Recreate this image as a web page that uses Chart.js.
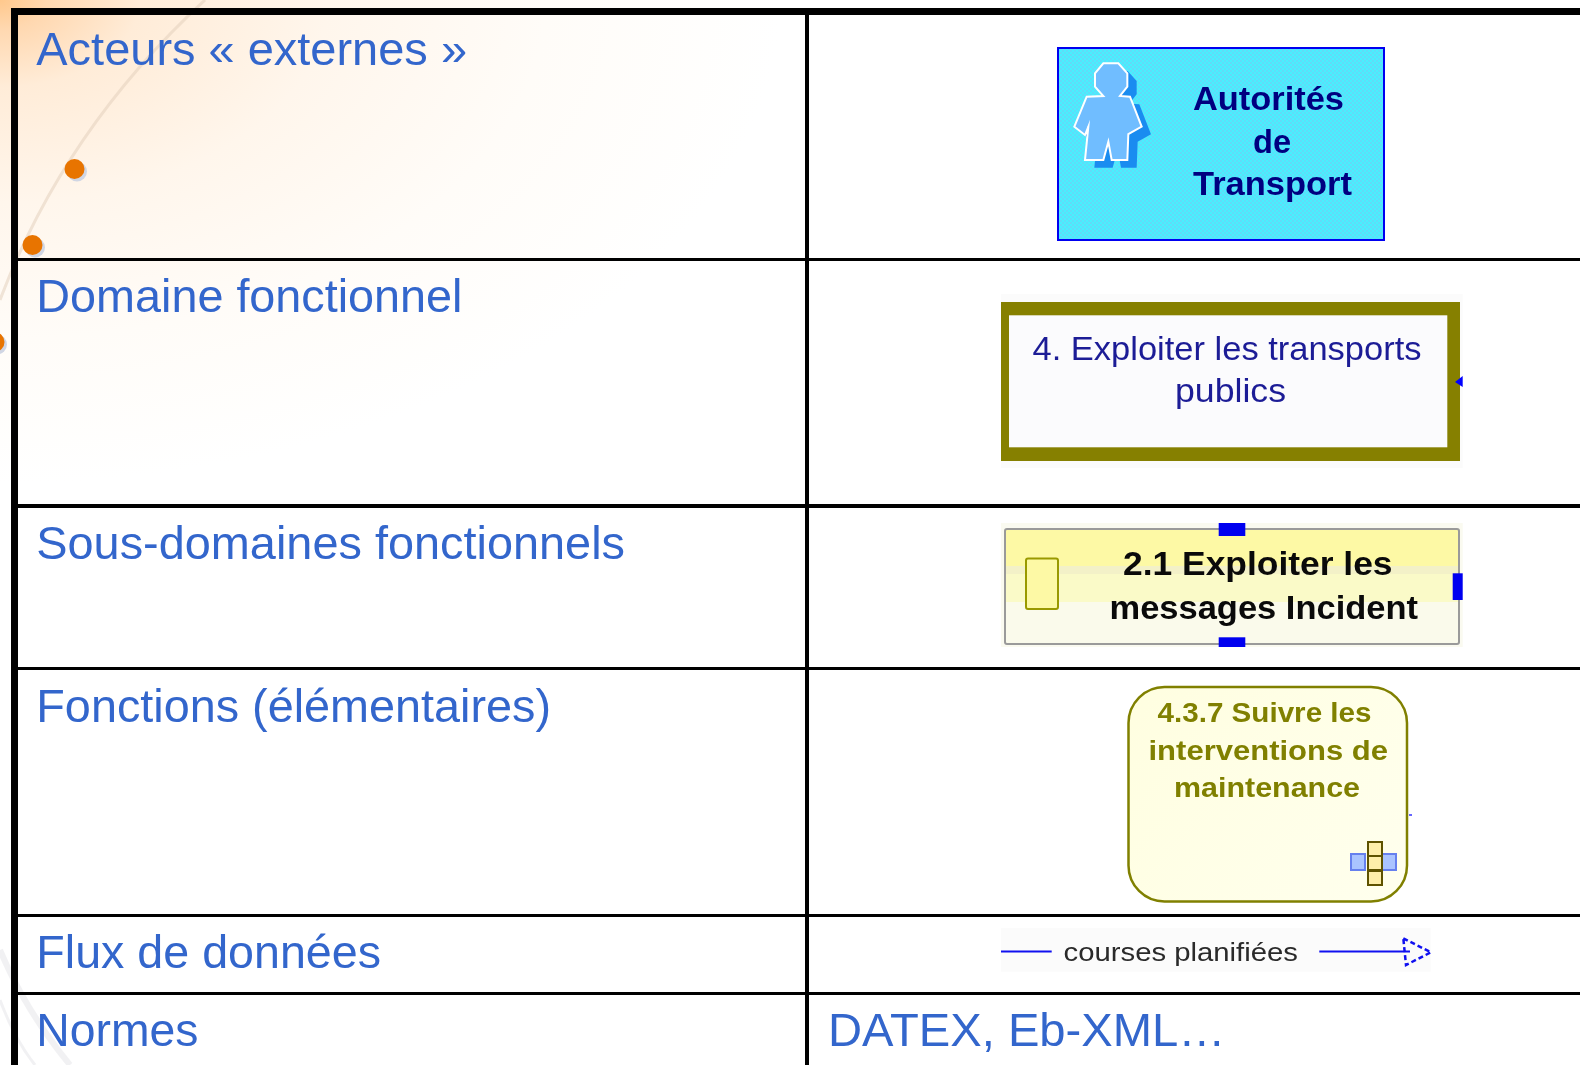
<!DOCTYPE html>
<html lang="fr"><head><meta charset="utf-8">
<style>html,body{margin:0;padding:0;background:#fff;overflow:hidden}#w{width:1580px;height:1065px;position:relative}canvas{display:block}</style>
<script src="https://cdn.jsdelivr.net/npm/chart.js@4"></script>
</head><body><div id="w"><canvas id="c" width="1580" height="1065"></canvas></div>
<script>
// Table content
const rowLabels = ["Acteurs « externes »","Domaine fonctionnel","Sous-domaines fonctionnels","Fonctions (élémentaires)","Flux de données","Normes"];
const normsValue = "DATEX, Eb-XML…";
const actorLines = ["Autorités","de","Transport"];
const domainLines = ["4. Exploiter les transports","publics"];
const subdomainLines = ["2.1 Exploiter les","messages Incident"];
const functionLines = ["4.3.7 Suivre les","interventions de","maintenance"];
const flowLabel = "courses planifiées";
// Table frame, on the axes (1 unit = 1 px)
const rowEdges = [11.5,259.5,506,668.5,915.5,993.5];
const rowEdgeWidths = [7,3,4,3,3,3];
const colEdges = [14.5,807];
const colEdgeWidths = [7,4];
const labelBaselines = [65,312,559,722,968,1046];
const labelEnds = [467,462.5,625,551,381,198.5];
// Decorative bullets of the slide
const bulletX = [74.5,32.5,-5.5];
const bulletY = [169,245,342];

let chart;
const X = v => chart.scales.x.getPixelForValue(v);
const Y = v => chart.scales.y.getPixelForValue(v);

function fit(ctx,text,x0,x1,base,font,color){
  ctx.font=font;ctx.fillStyle=color;ctx.textAlign='left';ctx.textBaseline='alphabetic';
  const w=ctx.measureText(text).width;
  ctx.save();ctx.translate(X(x0),Y(base));ctx.scale((X(x1)-X(x0))/w,1);
  ctx.fillText(text,0,0);ctx.restore();
}
function rect(ctx,x0,y0,x1,y1,c){ctx.fillStyle=c;ctx.fillRect(X(x0),Y(y0),X(x1)-X(x0),Y(y1)-Y(y0));}
function poly(ctx,pts,ox,oy){ctx.beginPath();pts.forEach((p,i)=>{const a=X(1040+(p[0]+ox)/3),b=Y(30+(p[1]+oy)/3);i?ctx.lineTo(a,b):ctx.moveTo(a,b);});ctx.closePath();}
function dither(ctx,a,b){
  const t=document.createElement('canvas');t.width=t.height=4;const q=t.getContext('2d');
  q.fillStyle=a;q.fillRect(0,0,4,4);q.fillStyle=b;q.fillRect(0,0,2,2);q.fillRect(2,2,2,2);
  return ctx.createPattern(t,'repeat');
}

const backdrop={id:'backdrop',beforeDraw(ch){
  chart=ch;
  const c=ch.ctx;c.save();
  c.fillStyle='#fff';c.fillRect(0,0,1580,1065);
  // warm corner wash
  c.save();c.scale(1,0.62);
  const g=c.createRadialGradient(0,0,0,0,0,780);
  g.addColorStop(0,'#ffc88c');g.addColorStop(.06,'#ffd8b0');g.addColorStop(.18,'#ffecd8');
  g.addColorStop(.42,'#fff6ec');g.addColorStop(.7,'#fffcf8');g.addColorStop(1,'#ffffff');
  c.fillStyle=g;c.fillRect(0,0,900,1000);c.restore();
  // swooshes
  c.strokeStyle='rgba(225,205,185,.5)';c.lineWidth=3;
  c.beginPath();c.moveTo(205,0);c.quadraticCurveTo(64,130,0,300);c.stroke();
  c.strokeStyle='rgba(215,215,220,.35)';c.lineWidth=6;
  c.beginPath();c.moveTo(0,950);c.quadraticCurveTo(25,1010,70,1065);c.stroke();
  c.lineWidth=3;c.beginPath();c.moveTo(0,1000);c.quadraticCurveTo(15,1040,35,1065);c.stroke();
  c.restore();
},
// the third bullet sits outside the table frame, so let points draw past the left edge
beforeDatasetsDraw(ch){ch._savedLeft=ch.chartArea.left;ch.chartArea.left=-30;},
afterDatasetsDraw(ch){ch.chartArea.left=ch._savedLeft;}
};

const cells={id:'cells',afterDraw(ch){
  chart=ch;
  const c=ch.ctx;c.save();
  // left column
  const lf='46px "Liberation Sans"';
  rowLabels.forEach((t,i)=>fit(c,t,36.3,labelEnds[i],labelBaselines[i],lf,'#3366cc'));
  fit(c,normsValue,828,1225.4,labelBaselines[5],lf,'#3366cc');

  c.filter='blur(0.6px)';
  // actor box
  rect(c,1057,47,1385,241,'#0000f0');
  rect(c,1059,49,1383,239,dither(c,'#48effe','#5fdcf8'));
  const man=[[190,100],[235,100],[262,130],[262,170],[240,198],[270,200],[305,290],[265,312],[262,390],[215,390],[205,335],[190,390],[135,390],[145,290],[135,315],[103,290],[140,200],[190,198],[165,170],[165,130]];
  c.fillStyle='#1a8cf0';poly(c,man,28,23);c.fill();
  c.fillStyle='#70bdff';c.strokeStyle='#fff';c.lineWidth=2;poly(c,man,0,0);c.fill();c.stroke();
  const nb='bold 34px "Liberation Sans"';
  fit(c,actorLines[0],1193,1344,110,nb,'#000080');
  fit(c,actorLines[1],1253,1291,153,nb,'#000080');
  fit(c,actorLines[2],1193,1352,195,nb,'#000080');

  // domain box
  rect(c,1001,294,1462.7,468,'#fbfbfb');
  rect(c,1001,302,1460,461,'#868000');
  rect(c,1009,315.3,1447.3,447.3,'#fbfbfd');
  const nr='33px "Liberation Sans"';
  fit(c,domainLines[0],1032.5,1421.5,359.5,nr,'#1c1c96');
  fit(c,domainLines[1],1175,1286,402,nr,'#1c1c96');
  c.fillStyle='#0000ff';c.beginPath();c.moveTo(X(1462.7),Y(376));c.lineTo(X(1455),Y(382));c.lineTo(X(1462.7),Y(387));c.closePath();c.fill();

  // sub-domain box
  rect(c,1001,523,1462.7,647,'#fafaf0');
  rect(c,1006,530,1458,566,'#fdf9a5');
  rect(c,1006,566,1458,574,'#f3f1c8');
  rect(c,1006,574,1458,602,'#fafac8');
  rect(c,1006,602,1458,643,'#fafaeb');
  c.strokeStyle='#9a9a9a';c.lineWidth=2;c.beginPath();c.roundRect(X(1005),Y(529),454,Y(644)-Y(529),2);c.stroke();
  c.fillStyle='#fdf9a5';c.strokeStyle='#999900';c.beginPath();c.roundRect(X(1026),Y(558.5),32,50.5,2);c.fill();c.stroke();
  rect(c,1218.7,523,1245.3,536,'#0000f0');
  rect(c,1218.7,637.3,1245.3,647,'#0000f0');
  rect(c,1452.7,573.3,1462.7,600,'#0000f0');
  fit(c,subdomainLines[0],1123,1392.5,575,nb,'#0a0a0a');
  fit(c,subdomainLines[1],1109.5,1418,618.5,nb,'#0a0a0a');

  // function box
  const fg=c.createLinearGradient(X(1127),Y(686),X(1408),Y(902));
  fg.addColorStop(0,'#fffee0');fg.addColorStop(1,'#ffffee');
  c.fillStyle=fg;c.strokeStyle='#808000';c.lineWidth=2.5;
  c.beginPath();c.roundRect(X(1128.5),Y(687),278.5,214.5,36);c.fill();c.stroke();
  const ob='bold 28px "Liberation Sans"';
  fit(c,functionLines[0],1157.5,1371.5,722,ob,'#808000');
  fit(c,functionLines[1],1148.5,1388,759.5,ob,'#808000');
  fit(c,functionLines[2],1174,1360,797,ob,'#808000');
  // small component icon
  [[1351,854],[1382,854]].forEach(p=>{c.fillStyle='#aac4ff';c.strokeStyle='#6680ee';c.lineWidth=2;c.fillRect(X(p[0]),Y(p[1]),14,16);c.strokeRect(X(p[0]),Y(p[1]),14,16);});
  [842,856,871].forEach(y=>{c.fillStyle='#fdeeaa';c.strokeStyle='#5e5200';c.lineWidth=2;c.fillRect(X(1368),Y(y),14,14);c.strokeRect(X(1368),Y(y),14,14);});
  rect(c,1409,814,1412,816,'#6666ff');

  // flow
  rect(c,1001,928,1430.7,971.7,'#fbfbfb');
  c.strokeStyle='#1010f0';c.lineWidth=2;
  c.beginPath();c.moveTo(X(1001),Y(951.5));c.lineTo(X(1051.7),Y(951.5));c.moveTo(X(1319.3),Y(951.5));c.lineTo(X(1410),Y(951.5));c.stroke();
  c.lineWidth=2.5;c.setLineDash([5,3]);c.beginPath();c.moveTo(X(1403.3),Y(938.3));c.lineTo(X(1431),Y(952.3));c.lineTo(X(1406),Y(965));c.closePath();c.stroke();c.setLineDash([]);
  fit(c,flowLabel,1063.5,1298,960.5,'25px "Liberation Sans"','#2a2a2a');
  c.restore();
}};

new Chart(document.getElementById('c'),{
  type:'scatter',
  data:{datasets:[
    {label:'puces',data:bulletX.map((x,i)=>({x:x,y:bulletY[i]})),pointRadius:10,pointBackgroundColor:'#e87400',pointBorderWidth:0,clip:false},
    {label:'ombre',data:bulletX.map((x,i)=>({x:x+2.5,y:bulletY[i]+2.5})),pointRadius:10,pointBackgroundColor:'#d0d6e4',pointBorderWidth:0,clip:false}
  ]},
  options:{
    responsive:false,animation:false,
    layout:{autoPadding:false,padding:{top:8,left:11,right:0,bottom:0}},
    plugins:{legend:{display:false},tooltip:{enabled:false},title:{display:false}},
    scales:{
      x:{type:'linear',min:11,max:1580,afterBuildTicks:s=>{s.ticks=colEdges.map(v=>({value:v}));},
        ticks:{display:false},border:{display:false},
        grid:{color:'#000',drawTicks:false,tickLength:0,lineWidth:ctx=>colEdgeWidths[colEdges.indexOf(ctx.tick.value)]}},
      y:{type:'linear',reverse:true,min:8,max:1065,afterBuildTicks:s=>{s.ticks=rowEdges.map(v=>({value:v}));},
        ticks:{display:false},border:{display:false},
        grid:{color:'#000',drawTicks:false,tickLength:0,lineWidth:ctx=>rowEdgeWidths[rowEdges.indexOf(ctx.tick.value)]}}
    }
  },
  plugins:[backdrop,cells]
});
</script></body></html>
